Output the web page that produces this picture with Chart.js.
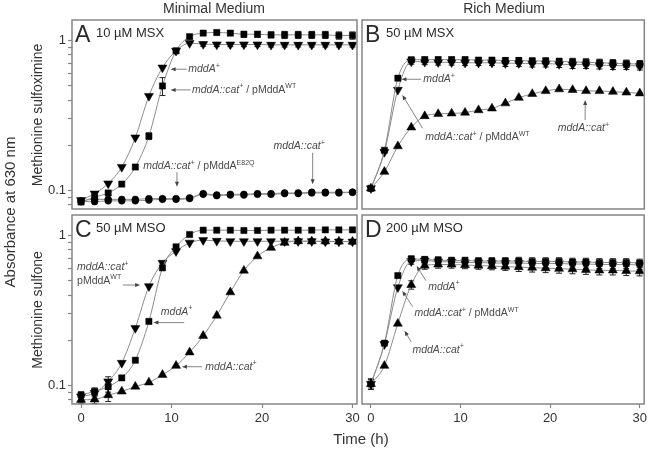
<!DOCTYPE html>
<html>
<head>
<meta charset="utf-8">
<script src="https://cdn.jsdelivr.net/npm/chart.js@4.4.0/dist/chart.umd.min.js"></script>
<style>
  body { margin: 0; background: #fff; }
  #wrap { position: relative; width: 650px; height: 452px; font-family: "Liberation Sans", Arial, sans-serif; color: #333; }
  #wrap canvas { position: absolute; left: 0; top: 0; }
  .lbl { position: absolute; white-space: nowrap; transform: translate(-50%, -50%); }
  .rot { transform: translate(-50%, -50%) rotate(-90deg); }
</style>
</head>
<body>
<div id="wrap">
  <canvas id="cA" width="650" height="452"></canvas>
  <canvas id="cB" width="650" height="452"></canvas>
  <canvas id="cC" width="650" height="452"></canvas>
  <canvas id="cD" width="650" height="452"></canvas>
  <div class="lbl" style="left:214px;top:8px;font-size:14px">Minimal Medium</div>
  <div class="lbl" style="left:504px;top:8px;font-size:14px">Rich Medium</div>
  <div class="lbl rot" style="left:9px;top:212px;font-size:15px">Absorbance at 630 nm</div>
  <div class="lbl rot" style="left:37px;top:115px;font-size:14px">Methionine sulfoximine</div>
  <div class="lbl rot" style="left:37px;top:310px;font-size:14px">Methionine sulfone</div>
  <div class="lbl" style="left:361px;top:438px;font-size:15px">Time (h)</div>
</div>
<script>
// Growth curves, A630 vs time (h)

const hours = [0, 1.5, 3, 4.5, 6, 7.5, 9, 10.5, 12, 13.5, 15, 16.5, 18, 19.5, 21, 22.5, 24, 25.5, 27, 28.5, 30];
const xTicks = [0, 10, 20, 30];
const yTicks = [0.08, 0.09, 0.1, 0.2, 0.3, 0.4, 0.5, 0.6, 0.7, 0.8, 0.9, 1];

// A: 10 uM MSX, minimal medium
const aWild = [0.086, 0.095, 0.111, 0.143, 0.225, 0.426, 0.659, 0.853, 0.96, 0.945, 0.94, 0.94, 0.94, 0.94, 0.935, 0.935, 0.935, 0.935, 0.935, 0.935, 0.935];
const aWildErr = [0, 0, 0, 0, 0, 0, 0, 0, 0, 0.03, 0.03, 0.03, 0.03, 0.03, 0.03, 0.03, 0.03, 0.03, 0.03, 0.03, 0.03];
const aCompWT = [0.0835, 0.090, 0.096, 0.11, 0.143, 0.23, 0.497, 0.853, 1.06, 1.12, 1.13, 1.12, 1.10, 1.10, 1.09, 1.09, 1.09, 1.09, 1.09, 1.08, 1.08];
const aCompWTErr = [0, 0, 0, 0, 0.004, 0.012, 0.068, 0.02, 0.03, 0.04, 0.04, 0.04, 0.05, 0.05, 0.05, 0.06, 0.06, 0.06, 0.06, 0.06, 0.06];
const aCompE82Q = [0.084, 0.084, 0.085, 0.085, 0.085, 0.086, 0.087, 0.087, 0.088, 0.094, 0.092, 0.093, 0.093, 0.094, 0.094, 0.095, 0.095, 0.096, 0.096, 0.096, 0.097];
const aCat = [0.085, 0.087, 0.087, 0.087, 0.087, 0.088, 0.088, 0.088, 0.089, 0.095, 0.093, 0.094, 0.094, 0.095, 0.095, 0.096, 0.096, 0.097, 0.097, 0.097, 0.097];

// B: 50 uM MSX, rich medium
const bWild = [0.103, 0.185, 0.56, 0.743, 0.745, 0.745, 0.745, 0.745, 0.74, 0.74, 0.735, 0.735, 0.73, 0.73, 0.725, 0.72, 0.715, 0.71, 0.705, 0.70, 0.695];
const bCompWT = [0.103, 0.18, 0.468, 0.724, 0.72, 0.715, 0.715, 0.71, 0.71, 0.71, 0.705, 0.705, 0.70, 0.70, 0.695, 0.69, 0.69, 0.685, 0.68, 0.68, 0.675];
const bCat = [0.103, 0.133, 0.197, 0.263, 0.313, 0.323, 0.326, 0.33, 0.343, 0.352, 0.381, 0.415, 0.44, 0.46, 0.473, 0.468, 0.46, 0.46, 0.455, 0.45, 0.444];
const bErr = [0, 0, 0, 0.03, 0.03, 0.03, 0.03, 0.03, 0.03, 0.03, 0.035, 0.035, 0.035, 0.035, 0.035, 0.04, 0.04, 0.04, 0.04, 0.04, 0.04];

// C: 50 uM MSO, minimal medium
const cWild = [0.0863, 0.091, 0.098, 0.112, 0.147, 0.267, 0.608, 0.84, 1.015, 1.085, 1.085, 1.085, 1.08, 1.08, 1.085, 1.085, 1.085, 1.085, 1.09, 1.09, 1.09];
const cCompWT = [0.084, 0.0888, 0.106, 0.141, 0.241, 0.458, 0.656, 0.785, 0.894, 0.93, 0.92, 0.915, 0.915, 0.915, 0.915, 0.915, 0.915, 0.915, 0.91, 0.91, 0.91];
const cCat = [0.080, 0.0805, 0.086, 0.091, 0.098, 0.1045, 0.1175, 0.135, 0.166, 0.214, 0.292, 0.418, 0.583, 0.727, 0.828, 0.894, 0.916, 0.915, 0.915, 0.912, 0.91];
const cErr = [0.004, 0.005, 0.008, 0, 0, 0, 0, 0, 0, 0, 0, 0, 0, 0, 0, 0.02, 0.03, 0.03, 0.03, 0.03, 0.03];

// D: 200 uM MSO, rich medium
const dWild = [0.102, 0.191, 0.54, 0.698, 0.69, 0.685, 0.68, 0.68, 0.675, 0.675, 0.675, 0.675, 0.67, 0.67, 0.67, 0.665, 0.665, 0.66, 0.66, 0.66, 0.655];
const dCompWT = [0.102, 0.188, 0.451, 0.673, 0.68, 0.67, 0.665, 0.66, 0.66, 0.655, 0.655, 0.655, 0.65, 0.65, 0.65, 0.645, 0.645, 0.64, 0.64, 0.64, 0.635];
const dCat = [0.102, 0.135, 0.258, 0.468, 0.63, 0.64, 0.64, 0.635, 0.63, 0.625, 0.62, 0.615, 0.61, 0.605, 0.60, 0.595, 0.59, 0.585, 0.585, 0.58, 0.577];
const dErr = [0.008, 0, 0, 0.03, 0.035, 0.035, 0.035, 0.035, 0.035, 0.035, 0.035, 0.04, 0.04, 0.04, 0.04, 0.04, 0.04, 0.04, 0.04, 0.04, 0.04];

// label pieces: [text, style]  i = italic, n = normal, s = superscript
const MDDA = [['mddA', 'i'], ['+', 'is']];
const CAT = [['mddA::cat', 'i'], ['+', 'is']];
const COMP_WT = [['mddA::cat', 'i'], ['+', 'is'], [' / pMddA', 'n'], ['WT', 'ns']];
const COMP_E82Q = [['mddA::cat', 'i'], ['+', 'is'], [' / pMddA', 'n'], ['E82Q', 'ns']];
const PMDDA_WT = [['pMddA', 'n'], ['WT', 'ns']];

const FONT = '"Liberation Sans", Arial, sans-serif';
const LINE_GREY = '#8c8c8c';
const AXIS_GREY = '#858585';

function series(vals, shape, err) {
  return {
    data: hours.map((t, i) => ({ x: t, y: vals[i] })),
    err: err,
    borderColor: LINE_GREY,
    borderWidth: 1,
    cubicInterpolationMode: 'monotone',
    pointStyle: shape === 'down' ? 'triangle' : shape,
    pointRotation: shape === 'down' ? 180 : 0,
    pointRadius: shape === 'rect' ? 4.4 : shape === 'circle' ? 3.4 : 5.2,
    pointBackgroundColor: '#000',
    pointBorderColor: '#000',
    pointBorderWidth: 0.5
  };
}

// box round each panel
const panelBox = {
  id: 'panelBox',
  afterDraw(chart) {
    const { ctx, chartArea: a } = chart;
    ctx.save();
    ctx.strokeStyle = AXIS_GREY;
    ctx.lineWidth = 1.5;
    ctx.strokeRect(a.left, a.top, a.right - a.left, a.bottom - a.top);
    ctx.restore();
  }
};

const errorBars = {
  id: 'errorBars',
  beforeDatasetsDraw(chart) {
    const { ctx, scales: { x, y } } = chart;
    ctx.save();
    ctx.strokeStyle = '#222';
    ctx.lineWidth = 1;
    chart.data.datasets.forEach(ds => {
      if (!ds.err) return;
      ds.data.forEach((p, i) => {
        const e = ds.err[i];
        if (!e) return;
        const px = x.getPixelForValue(p.x);
        const top = y.getPixelForValue(p.y + e);
        const bot = y.getPixelForValue(p.y - e);
        ctx.beginPath();
        ctx.moveTo(px, top); ctx.lineTo(px, bot);
        ctx.moveTo(px - 3, top); ctx.lineTo(px + 3, top);
        ctx.moveTo(px - 3, bot); ctx.lineTo(px + 3, bot);
        ctx.stroke();
      });
    });
    ctx.restore();
  }
};

function drawRich(ctx, pieces, x, y) {
  pieces.forEach(([txt, st]) => {
    const sup = st.includes('s');
    const ital = st.includes('i') ? 'italic ' : '';
    ctx.font = ital + (sup ? '7px ' : '10.5px ') + FONT;
    ctx.fillText(txt, x, sup ? y - 3.5 : y);
    x += ctx.measureText(txt).width;
  });
}

const notes = {
  id: 'notes',
  afterDraw(chart, args, opts) {
    const { ctx, scales: { x, y }, chartArea: a } = chart;
    ctx.save();
    // panel letter + condition
    ctx.fillStyle = '#2a2a2a';
    ctx.textBaseline = 'alphabetic';
    ctx.font = '23px ' + FONT;
    ctx.fillText(opts.letter, a.left + 3, a.top + 22);
    ctx.font = '13px ' + FONT;
    ctx.fillText(opts.title, a.left + 24, a.top + 17);

    ctx.textBaseline = 'middle';
    (opts.items || []).forEach(n => {
      ctx.fillStyle = '#4a4a4a';
      const tx = x.getPixelForValue(n.at[0]);
      const ty = y.getPixelForValue(n.at[1]);
      n.lines.forEach((ln, k) => drawRich(ctx, ln, tx, ty + k * 13.4));
      const [p, q] = n.arrow;
      const x1 = x.getPixelForValue(p[0]), y1 = y.getPixelForValue(p[1]);
      const x2 = x.getPixelForValue(q[0]), y2 = y.getPixelForValue(q[1]);
      const ang = Math.atan2(y2 - y1, x2 - x1);
      ctx.strokeStyle = '#666';
      ctx.fillStyle = '#444';
      ctx.lineWidth = 0.8;
      ctx.beginPath();
      ctx.moveTo(x1, y1);
      ctx.lineTo(x2 - 4 * Math.cos(ang), y2 - 4 * Math.sin(ang));
      ctx.stroke();
      ctx.beginPath();
      ctx.moveTo(x2, y2);
      ctx.lineTo(x2 - 5 * Math.cos(ang) + 2 * Math.sin(ang), y2 - 5 * Math.sin(ang) - 2 * Math.cos(ang));
      ctx.lineTo(x2 - 5 * Math.cos(ang) - 2 * Math.sin(ang), y2 - 5 * Math.sin(ang) + 2 * Math.cos(ang));
      ctx.closePath();
      ctx.fill();
    });
    ctx.restore();
  }
};

function makePanel(id, datasets, pos, annot) {
  const showY = pos.left < 100;
  const showX = pos.top > 200;
  new Chart(document.getElementById(id), {
    type: 'line',
    data: { datasets: datasets },
    plugins: [panelBox, errorBars, notes],
    options: {
      responsive: false,
      animation: false,
      events: [],
      layout: {
        padding: {
          left: showY ? pos.left - 40 : pos.left,
          right: 650 - pos.right,
          top: pos.top,
          bottom: showX ? 452 - pos.bottom - 30 : 452 - pos.bottom
        }
      },
      plugins: { legend: { display: false }, tooltip: { enabled: false }, notes: annot },
      scales: {
        x: {
          type: 'linear',
          min: -1,
          max: 30.5,
          display: showX,
          afterFit: s => { s.height = showX ? 30 : 0; },
          afterBuildTicks: s => { s.ticks = xTicks.map(v => ({ value: v })); },
          grid: { drawOnChartArea: false, tickLength: 4, tickColor: AXIS_GREY, tickWidth: 1.2 },
          border: { display: false },
          ticks: { color: '#333', padding: 3, font: { size: 13, family: FONT }, maxRotation: 0 }
        },
        y: {
          type: 'logarithmic',
          min: 0.075,
          max: 1.37,
          display: showY,
          afterFit: s => { s.width = showY ? 40 : 0; },
          afterBuildTicks: s => { s.ticks = yTicks.map(v => ({ value: v })); },
          grid: { drawOnChartArea: false, tickLength: 4, tickColor: AXIS_GREY, tickWidth: 1.2 },
          border: { display: false },
          ticks: {
            autoSkip: false,
            color: '#333',
            padding: 2,
            font: { size: 13, family: FONT },
            callback: v => (v === 1 ? '1' : v === 0.1 ? '0.1' : '')
          }
        }
      }
    }
  });
}

makePanel('cA', [
  series(aCompE82Q, 'circle'),
  series(aCat, 'circle'),
  series(aCompWT, 'rect', aCompWTErr),
  series(aWild, 'down', aWildErr)
], { left: 72, right: 357, top: 20, bottom: 209 }, {
  letter: 'A', title: '10 \u00b5M MSX',
  items: [
    { at: [11.85, 0.643], lines: [MDDA], arrow: [[11.7, 0.643], [9.9, 0.643]] },
    { at: [12.26, 0.468], lines: [COMP_WT], arrow: [[12.1, 0.468], [9.9, 0.468]] },
    { at: [6.87, 0.145], lines: [COMP_E82Q], arrow: [[10.6, 0.132], [10.6, 0.1055]] },
    { at: [21.26, 0.197], lines: [CAT], arrow: [[25.6, 0.178], [25.6, 0.1096]] }
  ]
});

makePanel('cB', [
  series(bCat, 'triangle'),
  series(bWild, 'rect', bErr),
  series(bCompWT, 'down', bErr)
], { left: 362, right: 647, top: 20, bottom: 209 }, {
  letter: 'B', title: '50 \u00b5M MSX',
  items: [
    { at: [5.84, 0.551], lines: [MDDA], arrow: [[5.6, 0.551], [3.4, 0.551]] },
    { at: [6.06, 0.2254], lines: [COMP_WT], arrow: [[5.77, 0.259], [3.5, 0.433]] },
    { at: [20.84, 0.259], lines: [CAT], arrow: [[23.9, 0.294], [23.9, 0.401]] }
  ]
});

makePanel('cC', [
  series(cCat, 'triangle', cErr),
  series(cWild, 'rect', cErr),
  series(cCompWT, 'down', cErr)
], { left: 72, right: 357, top: 215, bottom: 404 }, {
  letter: 'C', title: '50 \u00b5M MSO',
  items: [
    { at: [-0.44, 0.613], lines: [CAT, PMDDA_WT], arrow: [[4.62, 0.467], [6.53, 0.467]] },
    { at: [8.82, 0.31], lines: [MDDA], arrow: [[11.4, 0.262], [8.0, 0.262]] },
    { at: [13.73, 0.133], lines: [CAT], arrow: [[13.37, 0.133], [11.15, 0.133]] }
  ]
});

makePanel('cD', [
  series(dCat, 'triangle', dErr),
  series(dWild, 'rect', dErr),
  series(dCompWT, 'down', dErr)
], { left: 362, right: 647, top: 215, bottom: 404 }, {
  letter: 'D', title: '200 \u00b5M MSO',
  items: [
    { at: [6.39, 0.455], lines: [MDDA], arrow: [[6.14, 0.499], [5.1, 0.626]] },
    { at: [4.85, 0.303], lines: [COMP_WT], arrow: [[4.66, 0.335], [3.5, 0.426]] },
    { at: [4.63, 0.172], lines: [CAT], arrow: [[4.49, 0.195], [3.75, 0.231]] }
  ]
});
</script>
</body>
</html>
